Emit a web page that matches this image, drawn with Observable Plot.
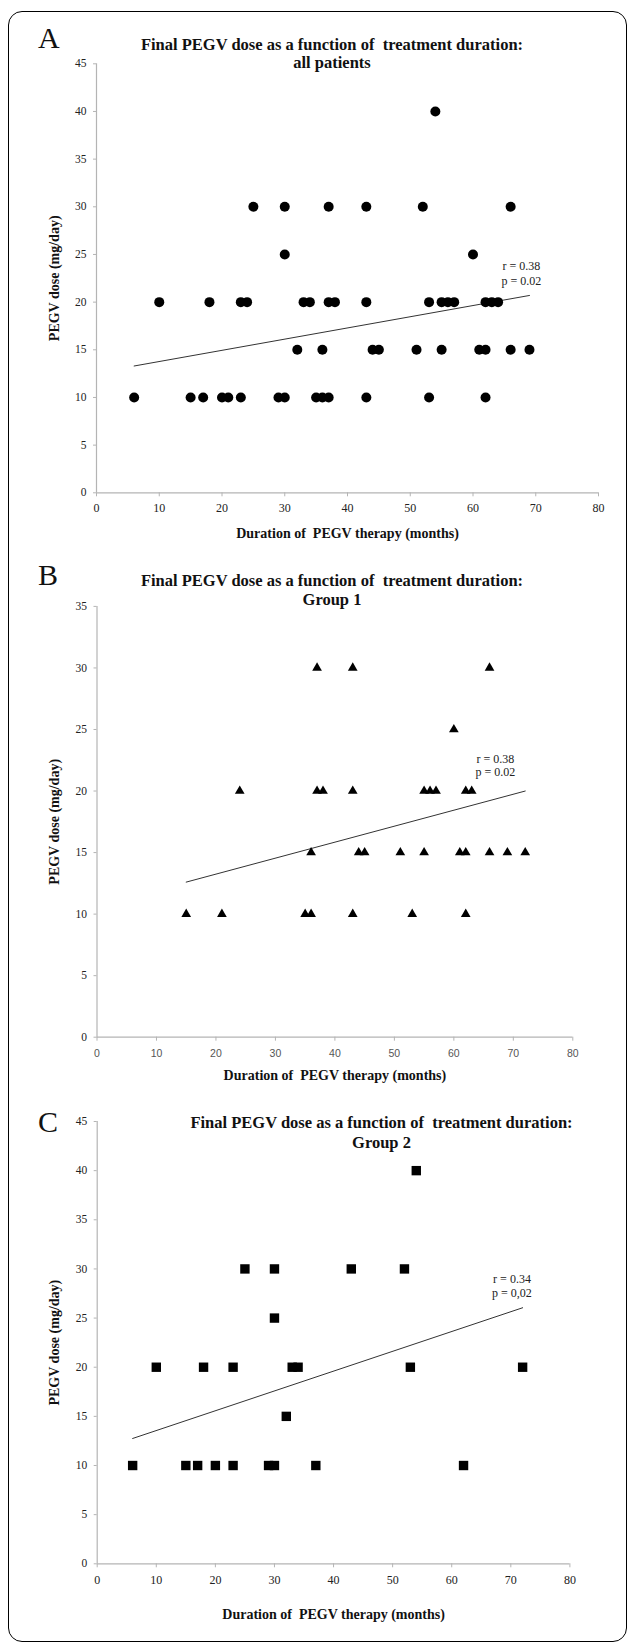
<!DOCTYPE html>
<html>
<head>
<meta charset="utf-8">
<script src="https://cdn.jsdelivr.net/npm/d3@7"></script>
<script src="https://cdn.jsdelivr.net/npm/@observablehq/plot@0.6"></script>
<style>
  body { margin: 0; background: #fff; }
  #page { position: relative; width: 629px; height: 1645px; overflow: hidden;
          font-family: "Liberation Serif", "Times New Roman", serif; color: #111; }
  #frame { position: absolute; left: 8px; top: 11px; width: 619px; height: 1631px;
           border: 1.6px solid #000; border-radius: 14px; box-sizing: border-box; }
  .letter { position: absolute; font-size: 30px; line-height: 30px; white-space: pre; }
  .title { position: absolute; font-weight: bold; font-size: 16.5px; text-align: center;
           white-space: pre; transform: translateX(-50%); }
  .panel { position: absolute; left: 0; }
</style>
</head>
<body>
<div id="page">
  <div id="frame"></div>
</div>
<script>
// ---------------- data ----------------
const xTickValues = [0, 10, 20, 30, 40, 50, 60, 70, 80];
const yTicks45 = [0, 5, 10, 15, 20, 25, 30, 35, 40, 45];
const yTicks35 = [0, 5, 10, 15, 20, 25, 30, 35];

const panelLetters = ["A", "B", "C"];
const titleLine1 = "Final PEGV dose as a function of\u00a0 treatment duration:";
const titleLine2 = ["all patients", "Group 1", "Group 2"];
const xAxisTitle = "Duration of\u00a0 PEGV therapy (months)";
const yAxisTitle = "PEGV dose (mg/day)";

// Panel A: all patients (months, mg/day)
const allDuration = [54,
  25, 30, 37, 43, 52, 66,
  30, 60,
  10, 18, 23, 24, 33, 34, 37, 38, 43, 53, 55, 56, 57, 62, 63, 64,
  32, 36, 44, 45, 51, 55, 61, 62, 66, 69,
  6, 15, 17, 20, 21, 23, 29, 30, 35, 36, 37, 43, 53, 62];
const allDose = [40,
  30, 30, 30, 30, 30, 30,
  25, 25,
  20, 20, 20, 20, 20, 20, 20, 20, 20, 20, 20, 20, 20, 20, 20, 20,
  15, 15, 15, 15, 15, 15, 15, 15, 15, 15,
  10, 10, 10, 10, 10, 10, 10, 10, 10, 10, 10, 10, 10, 10];
const allTrendX = [6, 69];
const allTrendY = [13.3, 20.7];
const allStats = ["r = 0.38", "p = 0.02"];
const allStatsX = [67.7, 67.7];
const allStatsY = [23.8, 22.2];

// Panel B: group 1
const g1Duration = [37, 43, 66,
  60,
  24, 37, 38, 43, 55, 56, 57, 62, 63,
  36, 44, 45, 51, 55, 61, 62, 66, 69, 72,
  15, 21, 35, 36, 43, 53, 62];
const g1Dose = [30, 30, 30,
  25,
  20, 20, 20, 20, 20, 20, 20, 20, 20,
  15, 15, 15, 15, 15, 15, 15, 15, 15, 15,
  10, 10, 10, 10, 10, 10, 10];
const g1TrendX = [15, 72];
const g1TrendY = [12.6, 20.0];
const g1Stats = ["r = 0.38", "p = 0.02"];
const g1StatsX = [67.0, 67.0];
const g1StatsY = [22.6, 21.5];

// Panel C: group 2
const g2Duration = [54,
  25, 30, 43, 52,
  30,
  10, 18, 23, 33, 34, 53, 72,
  32,
  6, 15, 17, 20, 23, 29, 30, 37, 62];
const g2Dose = [40,
  30, 30, 30, 30,
  25,
  20, 20, 20, 20, 20, 20, 20,
  15,
  10, 10, 10, 10, 10, 10, 10, 10, 10];
const g2TrendX = [6, 72];
const g2TrendY = [12.75, 26.05];
const g2Stats = ["r = 0.34", "p = 0,02"];
const g2StatsX = [70.2, 70.2];
const g2StatsY = [28.95, 27.5];

// ---------------- drawing ----------------
const axisGray = "#b4b4b4";
const page = document.getElementById("page");

function addDiv(cls, text, left, top, extra) {
  const d = document.createElement("div");
  d.className = cls;
  d.textContent = text;
  d.style.left = left + "px";
  d.style.top = top + "px";
  if (extra) Object.assign(d.style, extra);
  page.appendChild(d);
  return d;
}

function drawPanel(cfg) {
  const pts = cfg.xs.map((x, i) => ({x, y: cfg.ys[i]}));
  const trend = cfg.trendX.map((x, i) => ({x, y: cfg.trendY[i]}));
  const stats = cfg.stats.map((t, i) => ({t, x: cfg.statsX[i], y: cfg.statsY[i]}));
  const svg = Plot.plot({
    width: 629,
    height: cfg.height,
    marginLeft: cfg.mL, marginRight: cfg.mR, marginTop: cfg.mT, marginBottom: cfg.mB,
    style: {background: "transparent", fontFamily: "'Liberation Serif', 'Times New Roman', serif",
            fontSize: "11.5px", color: "#222", overflow: "visible"},
    x: {type: "linear", domain: [0, 80]},
    y: {type: "linear", domain: [0, cfg.yMax]},
    marks: [
      Plot.ruleY([0], {stroke: axisGray, strokeWidth: 1.2}),
      Plot.ruleX([0], {stroke: axisGray, strokeWidth: 1.2}),
      Plot.axisX({ticks: xTickValues, tickSize: 4, tickPadding: cfg.xPad, stroke: axisGray,
                  fill: cfg.xTickFill, fontFamily: cfg.xTickFont, fontSize: cfg.xTickSize, label: null}),
      Plot.axisX({ticks: [], tickSize: 0, label: xAxisTitle, labelAnchor: "center", labelArrow: "none",
                  labelOffset: cfg.xLabelOffset, fontWeight: "bold", fontSize: 14, fill: "#111"}),
      Plot.axisY({ticks: cfg.yTicks, tickSize: 3, tickPadding: 7, stroke: axisGray, fill: "#222", label: null}),
      Plot.axisY({ticks: [], tickSize: 0, label: yAxisTitle, labelAnchor: "center", labelArrow: "none",
                  labelOffset: cfg.yLabelOffset, fontWeight: "bold", fontSize: 14, fill: "#111"}),
      Plot.line(trend, {x: "x", y: "y", stroke: "#333", strokeWidth: 1}),
      Plot.dot(pts, {x: "x", y: "y", symbol: cfg.symbol, r: cfg.r, fill: "#000", stroke: "none"}),
      Plot.text(stats, {x: "x", y: "y", text: "t", fontSize: 12, fill: "#222"})
    ]
  });
  svg.classList.add("panel");
  svg.style.top = cfg.top + "px";
  page.appendChild(svg);
}

// Panel A
drawPanel({xs: allDuration, ys: allDose, symbol: "circle", r: 5,
  trendX: allTrendX, trendY: allTrendY, stats: allStats, statsX: allStatsX, statsY: allStatsY,
  yMax: 45, yTicks: yTicks45, top: 0, height: 560, mL: 96, mR: 31, mT: 63.3, mB: 67.7,
  xPad: 7, xTickFont: null, xTickSize: 12, xTickFill: "#222", xLabelOffset: 45.6, yLabelOffset: 47.9});
// Panel B
drawPanel({xs: g1Duration, ys: g1Dose, symbol: "triangle", r: 3.6,
  trendX: g1TrendX, trendY: g1TrendY, stats: g1Stats, statsX: g1StatsX, statsY: g1StatsY,
  yMax: 35, yTicks: yTicks35, top: 560, height: 530, mL: 96.5, mR: 56.7, mT: 45.9, mB: 53.3,
  xPad: 8.5, xTickFont: "'Liberation Sans', Arial, sans-serif", xTickSize: 10.5, xTickFill: "#555",
  xLabelOffset: 43.2, yLabelOffset: 48.4});
// Panel C
drawPanel({xs: g2Duration, ys: g2Dose, symbol: "square", r: 5.3,
  trendX: g2TrendX, trendY: g2TrendY, stats: g2Stats, statsX: g2StatsX, statsY: g2StatsY,
  yMax: 45, yTicks: yTicks45, top: 1090, height: 555, mL: 96.7, mR: 59.6, mT: 31, mB: 81.7,
  xPad: 7.7, xTickFont: null, xTickSize: 12, xTickFill: "#222", xLabelOffset: 55.3, yLabelOffset: 48.6});

// Letters and titles
addDiv("letter", panelLetters[0], 38, 23);
addDiv("letter", panelLetters[1], 38, 560);
addDiv("letter", panelLetters[2], 38, 1106.6);
addDiv("title", titleLine1 + "\n" + titleLine2[0], 332, 35.7, {lineHeight: "18.3px"});
addDiv("title", titleLine1 + "\n" + titleLine2[1], 332, 572.4, {lineHeight: "18.3px"});
addDiv("title", titleLine1 + "\n" + titleLine2[2], 381.5, 1113.1, {lineHeight: "20px"});
</script>
</body>
</html>
